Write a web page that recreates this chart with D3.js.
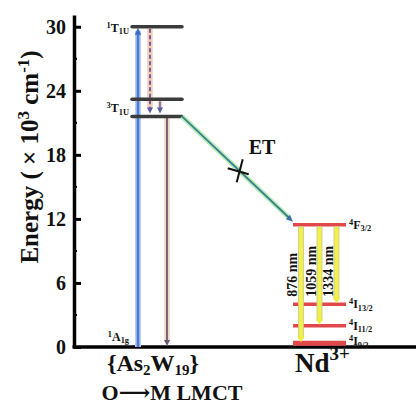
<!DOCTYPE html>
<html>
<head>
<meta charset="utf-8">
<script src="https://cdn.jsdelivr.net/npm/d3@7/dist/d3.min.js"></script>
<style>
  html, body { margin: 0; padding: 0; background: #fff; }
  svg { display: block; }
  text { font-family: "Liberation Serif", "DejaVu Serif", serif; font-weight: bold; fill: #111; }
</style>
</head>
<body>
<svg id="chart" width="416" height="405"></svg>
<script>
// Energy levels (10^3 cm^-1)
const groups = ["As2W19", "Nd"];
const asLevels = [30, 23.2, 21.6];          // 1T1U, intermediate, 3T1U
const ndLevels = [11.45, 4.0, 2.0, 0.35];    // 4F3/2, 4I13/2, 4I11/2, 4I9/2
const ndEmissionTargets = [0.35, 2.0, 4.0];  // lower levels reached from 4F3/2
const ndEmissionLabels = ["876 nm", "1059 nm", "1334 nm"];
const yTicks = [0, 6, 12, 18, 24, 30];
const yMinorTicks = [3, 9, 15, 21, 27];

const svg = d3.select("#chart");
const W = 416;

const y = d3.scaleLinear().domain([0, 31.1]).range([347, 15]);
const x = d3.scalePoint().domain(groups).range([157, 319.5]);
const axisX = 74;

// ---- axes ----
const yAxis = d3.axisLeft(y)
  .tickValues(yTicks)
  .tickSizeInner(-7)
  .tickSizeOuter(0)
  .tickPadding(8)
  .tickFormat(d3.format("d"));
const gy = svg.append("g").attr("transform", `translate(${axisX},0)`).call(yAxis);
gy.select(".domain").attr("stroke", "#000").attr("stroke-width", 3.5);
gy.selectAll(".tick line").attr("stroke", "#000").attr("stroke-width", 3);
gy.selectAll(".tick text")
  .attr("font-family", "Liberation Serif, serif")
  .attr("font-weight", "bold")
  .attr("font-size", 20)
  .attr("fill", "#111");

svg.append("g").selectAll("line").data(yMinorTicks).join("line")
  .attr("x1", axisX).attr("x2", axisX + 3)
  .attr("y1", d => y(d)).attr("y2", d => y(d))
  .attr("stroke", "#000").attr("stroke-width", 2);

svg.append("line")
  .attr("x1", axisX - 1.5).attr("x2", W)
  .attr("y1", y(0)).attr("y2", y(0))
  .attr("stroke", "#000").attr("stroke-width", 3.5);

// Y axis title
const yt = svg.append("text")
  .attr("transform", `translate(38,${y(17.8)}) rotate(-90)`)
  .attr("text-anchor", "middle")
  .attr("font-size", 25);
yt.append("tspan").text("Energy ( × 10");
yt.append("tspan").attr("font-size", 17).attr("dy", -9).text("3");
yt.append("tspan").attr("dy", 9).text(" cm");
yt.append("tspan").attr("font-size", 17).attr("dy", -9).text("-1");
yt.append("tspan").attr("dy", 9).text(")");

// ---- helpers ----
function arrowHead(g, x0, y0, dx, dy, len, half, color) {
  // tip at (x0,y0), pointing along (dx,dy)
  const n = Math.hypot(dx, dy), ux = dx / n, uy = dy / n;
  const bx = x0 - ux * len, by = y0 - uy * len;
  g.append("path")
    .attr("d", `M${x0},${y0}L${bx - uy * half},${by + ux * half}L${bx + uy * half},${by - ux * half}Z`)
    .attr("fill", color);
}
function glowLine(g, x1, y1, x2, y2, core, glow, cw, gw, dash) {
  g.append("line").attr("x1", x1).attr("y1", y1).attr("x2", x2).attr("y2", y2)
    .attr("stroke", glow).attr("stroke-width", gw);
  const l = g.append("line").attr("x1", x1).attr("y1", y1).attr("x2", x2).attr("y2", y2)
    .attr("stroke", core).attr("stroke-width", cw);
  if (dash) l.attr("stroke-dasharray", dash);
}
function sublabel(g, px, py, anchor, sup, main, sub, size) {
  const t = g.append("text").attr("x", px).attr("y", py)
    .attr("text-anchor", anchor).attr("font-size", size);
  t.append("tspan").attr("font-size", size * 0.7).attr("dy", -size * 0.35).text(sup);
  t.append("tspan").attr("dy", size * 0.35).text(main);
  t.append("tspan").attr("font-size", size * 0.7).attr("dy", size * 0.2).text(sub);
  return t;
}

// ---- {As2W19} levels and transitions ----
const ga = svg.append("g");
const cA = x("As2W19"), hwA = 25;

// excitation 1A1g -> 1T1U
glowLine(ga, cA - 19, y(0), cA - 19, y(asLevels[0]) + 4, "#4a7ad4", "#b9cdf0", 2.6, 6);
arrowHead(ga, cA - 19, y(asLevels[0]) + 1, 0, -1, 7, 3.2, "#3d6cc8");

// non-radiative relaxation 1T1U -> 3T1U (dashed)
glowLine(ga, cA - 7, y(asLevels[0]) + 2, cA - 7, y(asLevels[2]) - 8, "#75609a", "#f3cdb8", 2, 5.5, "4,2.5");
arrowHead(ga, cA - 7, y(asLevels[2]) - 3, 0, 1, 6, 3, "#5a5aa8");

// intermediate -> 3T1U
glowLine(ga, cA + 3, y(asLevels[1]) + 2, cA + 3, y(asLevels[2]) - 8, "#6b6aa8", "#f3d3c0", 1.6, 4.5);
arrowHead(ga, cA + 3, y(asLevels[2]) - 3, 0, 1, 6, 3, "#5a5aa8");

// emission 3T1U -> 1A1g
glowLine(ga, cA + 10, y(asLevels[2]), cA + 10, y(0) - 5, "#6a5878", "#f5d6c4", 1.8, 5.5);
arrowHead(ga, cA + 10, y(0) - 1, 0, 1, 6, 3, "#6a5878");

// level bars
ga.selectAll("line.lvl").data(asLevels).join("line").attr("class", "lvl")
  .attr("x1", cA - hwA).attr("x2", cA + hwA)
  .attr("y1", d => y(d)).attr("y2", d => y(d))
  .attr("stroke", "#3b3b3b").attr("stroke-width", 3.5).attr("stroke-linecap", "round");

sublabel(ga, cA - 28, y(asLevels[0]) + 5, "end", "1", "T", "1U", 12);
sublabel(ga, cA - 28, y(asLevels[2]) - 4, "end", "3", "T", "1U", 12);
sublabel(ga, cA - 28, y(0) - 6, "end", "1", "A", "1g", 12);

// ---- energy transfer arrow ----
const gt = svg.append("g");
const cN = x("Nd"), hwN = 26.5;
const etX1 = cA + hwA, etY1 = y(asLevels[2]);
const etX2 = cN - hwN, etY2 = y(ndLevels[0]) - 3;
glowLine(gt, etX1, etY1, etX2 - 4, etY2 - 4, "#3b7d92", "#b9f0b6", 1.8, 5);
arrowHead(gt, etX2, etY2, etX2 - etX1, etY2 - etY1, 7, 3, "#3a6fa0");

// cross mark on the transfer path
const mx = etX1 + (etX2 - etX1) * 0.52, my = etY1 + (etY2 - etY1) * 0.52;
gt.append("line").attr("x1", mx - 12).attr("y1", my - 3).attr("x2", mx + 9).attr("y2", my + 3)
  .attr("stroke", "#111").attr("stroke-width", 2);
gt.append("line").attr("x1", mx + 3).attr("y1", my - 12).attr("x2", mx - 3).attr("y2", my + 11)
  .attr("stroke", "#111").attr("stroke-width", 2);
gt.append("text").attr("x", mx + 9).attr("y", my - 17).attr("font-size", 20).text("ET");

// ---- Nd3+ levels and emissions ----
const gn = svg.append("g");
const emitOffsets = [-18.5, 0, 17];

gn.selectAll("line.lvl").data(ndLevels).join("line").attr("class", "lvl")
  .attr("x1", cN - hwN).attr("x2", cN + hwN)
  .attr("y1", d => y(d)).attr("y2", d => y(d))
  .attr("stroke", "#e0484a")
  .attr("stroke-width", (d, i) => i === 3 ? 5 : 3.5);

ndEmissionTargets.forEach((t, i) => {
  const ex = cN + emitOffsets[i];
  gn.append("rect")
    .attr("x", ex - 2.5).attr("width", 5)
    .attr("y", y(ndLevels[0]) + 2).attr("height", y(t) - y(ndLevels[0]) - 7)
    .attr("fill", "#f2f04a").attr("stroke", "#c9c890").attr("stroke-width", 0.8);
  arrowHead(gn, ex, y(t) - 1, 0, 1, 6, 3.6, "#eeee3a");
  gn.append("text")
    .attr("transform", `translate(${ex - 4},${y(4.7)}) rotate(-90)`)
    .attr("font-size", 14)
    .text(ndEmissionLabels[i]);
});

sublabel(gn, cN + hwN + 3, y(ndLevels[0]) + 4, "start", "4", "F", "3/2", 12);
sublabel(gn, cN + hwN + 3, y(ndLevels[1]) + 4, "start", "4", "I", "13/2", 12);
sublabel(gn, cN + hwN + 3, y(ndLevels[2]) + 4, "start", "4", "I", "11/2", 12);
sublabel(gn, cN + hwN + 3, y(ndLevels[3]) + 2, "start", "4", "I", "9/2", 12);

// ---- category labels ----
const ca = svg.append("text").attr("x", cA - 4).attr("y", 371).attr("text-anchor", "middle").attr("font-size", 24);
ca.append("tspan").text("{As");
ca.append("tspan").attr("font-size", 15).attr("dy", 4).text("2");
ca.append("tspan").attr("dy", -4).text("W");
ca.append("tspan").attr("font-size", 15).attr("dy", 4).text("19");
ca.append("tspan").attr("dy", -4).text("}");

const cn = svg.append("text").attr("x", cN + 3).attr("y", 372).attr("text-anchor", "middle").attr("font-size", 27);
cn.append("tspan").text("Nd");
cn.append("tspan").attr("font-size", 19).attr("dy", -12).text("3+");

svg.append("text").attr("x", 172).attr("y", 400).attr("text-anchor", "middle")
  .attr("font-size", 22).text("O⟶M LMCT");
</script>
</body>
</html>
